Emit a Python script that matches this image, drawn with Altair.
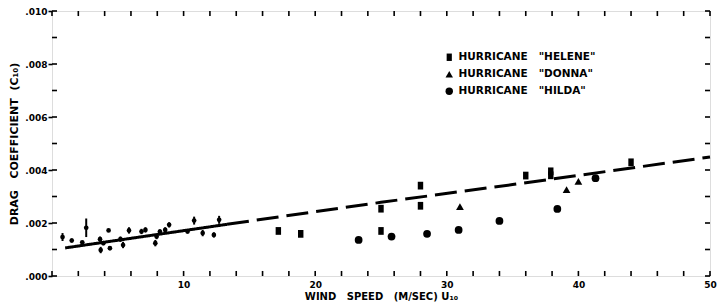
import altair as alt
import pandas as pd

# ---- data (C10 values in units of 0.001) ----
low_u = [0.8, 1.5, 2.3, 2.6, 3.65, 3.7, 3.9, 4.3, 4.4, 5.2, 5.4, 5.85, 6.8, 7.1,
         7.85, 7.95, 8.2, 8.6, 8.9, 10.3, 10.8, 11.45, 12.3, 12.7]
low_c = [1.47, 1.34, 1.27, 1.82, 1.39, 0.98, 1.24, 1.72, 1.05, 1.39, 1.17, 1.72, 1.68, 1.74,
         1.24, 1.49, 1.68, 1.74, 1.93, 1.68, 2.09, 1.62, 1.55, 2.12]
low_err = [0.15, 0.08, 0.0, 0.35, 0.1, 0.12, 0.08, 0.0, 0.08, 0.1, 0.12, 0.12, 0.1, 0.1,
           0.12, 0.1, 0.08, 0.1, 0.1, 0.08, 0.15, 0.12, 0.1, 0.15]

helene_u = [17.2, 18.9, 25.0, 25.0, 28.0, 28.0, 36.0, 37.9, 37.9, 44.0]
helene_c = [1.70, 1.59, 2.54, 1.70, 3.41, 2.65, 3.79, 3.80, 3.95, 4.29]
donna_u = [31.0, 39.1, 40.0]
donna_c = [2.62, 3.26, 3.57]
hilda_u = [23.3, 25.8, 28.5, 30.9, 34.0, 38.4, 41.3]
hilda_c = [1.36, 1.49, 1.59, 1.74, 2.08, 2.53, 3.69]

solid_u = [1.0, 13.3]
solid_c = [1.06, 1.95]
dash_u = [13.3, 25.0, 35.0, 50.0]
dash_c = [1.95, 2.78, 3.45, 4.49]

x_ticks = list(range(0, 51, 2))
x_labels = [10, 20, 30, 40, 50]
y_ticks = [0.0, 0.001, 0.002, 0.003, 0.004, 0.005, 0.006, 0.007, 0.008, 0.009, 0.010]
y_labels = [0.0, 0.002, 0.004, 0.006, 0.008, 0.010]

NB = "\u00a0"
names = ["HELENE", "DONNA", "HILDA"]
labels = [f'HURRICANE{NB*3}"{n}"' for n in names]

X0, X1 = 0, 50
Y0, Y1 = 0.0, 0.010
TLX = 0.38      # inward tick length along x (data units, ~5px)
TLY = 0.00019   # inward tick length along y (data units, ~5px)

# ---- tables ----
hur = pd.DataFrame({
    "u": helene_u + donna_u + hilda_u,
    "c": [v * 1e-3 for v in helene_c + donna_c + hilda_c],
    "storm": [labels[0]] * len(helene_u) + [labels[1]] * len(donna_u) + [labels[2]] * len(hilda_u),
})
low = pd.DataFrame({
    "u": low_u,
    "c": [v * 1e-3 for v in low_c],
    "lo": [(v - e) * 1e-3 for v, e in zip(low_c, low_err)],
    "hi": [(v + e) * 1e-3 for v, e in zip(low_c, low_err)],
})
line = pd.DataFrame({
    "u": solid_u + dash_u,
    "c": [v * 1e-3 for v in solid_c + dash_c],
    "seg": ["solid"] * len(solid_u) + ["dash"] * len(dash_u),
})
nx, ny = len(x_ticks), len(y_ticks)
xt = pd.DataFrame({
    "u": x_ticks + x_ticks,
    "a": [Y0] * nx + [Y1] * nx,
    "b": [Y0 + TLY] * nx + [Y1 - TLY] * nx,
})
yt = pd.DataFrame({
    "c": y_ticks + y_ticks,
    "a": [X0] * ny + [X1] * ny,
    "b": [X0 + TLX] * ny + [X1 - TLX] * ny,
})

FONT = "DejaVu Sans"
W, H = 658, 265
xs = alt.Scale(domain=[X0, X1], nice=False, zero=False)
ys = alt.Scale(domain=[Y0, Y1], nice=False)

main_x = alt.Axis(orient="bottom", values=x_labels, ticks=False, domain=False, grid=False,
                  labelOverlap=False, labelFlush=False,
                  labelFont=FONT, labelFontWeight="bold", labelFontSize=9, labelColor="black",
                  labelPadding=4,
                  title=f"WIND{NB*3}SPEED{NB*3}(M/SEC){NB}U₁₀", titleFont=FONT,
                  titleFontWeight="bold", titleFontSize=10, titleColor="black", titlePadding=2)
main_y = alt.Axis(orient="left", values=y_labels, ticks=True, tickSize=4, tickWidth=1.6,
                  tickColor="black", domain=False, grid=False,
                  labelOverlap=False, labelFlush=False,
                  labelExpr="replace(format(datum.value, '.3f'), '0.', '.')",
                  labelFont=FONT, labelFontWeight="bold", labelFontSize=9, labelColor="black",
                  labelPadding=1,
                  title=f"DRAG{NB*3}COEFFICIENT{NB*2}(C₁₀)", titleFont=FONT,
                  titleFontWeight="bold", titleFontSize=11, titleColor="black", titlePadding=5)

shape_scale = alt.Scale(domain=labels,
                        range=["M-0.7,-1L0.7,-1L0.7,1L-0.7,1Z", "triangle-up", "circle"])

points = alt.Chart(hur).mark_point(filled=True, color="black", opacity=1, size=60).encode(
    x=alt.X("u:Q", scale=xs, axis=main_x),
    y=alt.Y("c:Q", scale=ys, axis=main_y),
    shape=alt.Shape("storm:N", scale=shape_scale, legend=alt.Legend(
        title=None, orient="none", legendX=392, legendY=41, padding=0,
        symbolFillColor="black", symbolStrokeColor="black", symbolOpacity=1,
        symbolSize=55, symbolStrokeWidth=0, labelFont=FONT, labelFontWeight="bold",
        labelFontSize=10.5, labelColor="black", labelOffset=4, rowPadding=6)),
)

lines = alt.Chart(line).mark_line(color="black", strokeWidth=3).encode(
    x=alt.X("u:Q", scale=xs),
    y=alt.Y("c:Q", scale=ys),
    strokeDash=alt.StrokeDash("seg:N", scale=alt.Scale(domain=["solid", "dash"],
                                                      range=[[1, 0], [22, 8]]), legend=None),
)

bars = alt.Chart(low).mark_rule(color="black", strokeWidth=2).encode(
    x=alt.X("u:Q", scale=xs),
    y=alt.Y("lo:Q", scale=ys),
    y2="hi:Q",
)

dots = alt.Chart(low).mark_point(filled=True, color="black", opacity=1, size=22, shape="circle").encode(
    x=alt.X("u:Q", scale=xs),
    y=alt.Y("c:Q", scale=ys),
)

# inward frame ticks (top & bottom, left & right)
xtick = alt.Chart(xt).mark_rule(color="black", strokeWidth=1.6).encode(
    x=alt.X("u:Q", scale=xs), y=alt.Y("a:Q", scale=ys), y2="b:Q")
ytick = alt.Chart(yt).mark_rule(color="black", strokeWidth=1.6).encode(
    y=alt.Y("c:Q", scale=ys), x=alt.X("a:Q", scale=xs), x2="b:Q")

chart = alt.layer(points, lines, bars, dots, xtick, ytick).properties(
    width=W, height=H, autosize="none",
    padding={"left": 44, "top": 3, "right": 7, "bottom": 26},
).configure_view(stroke="black", strokeWidth=2.5).configure(background="white")

chart.save("out.html", embed_options={"renderer": "svg", "actions": False})
